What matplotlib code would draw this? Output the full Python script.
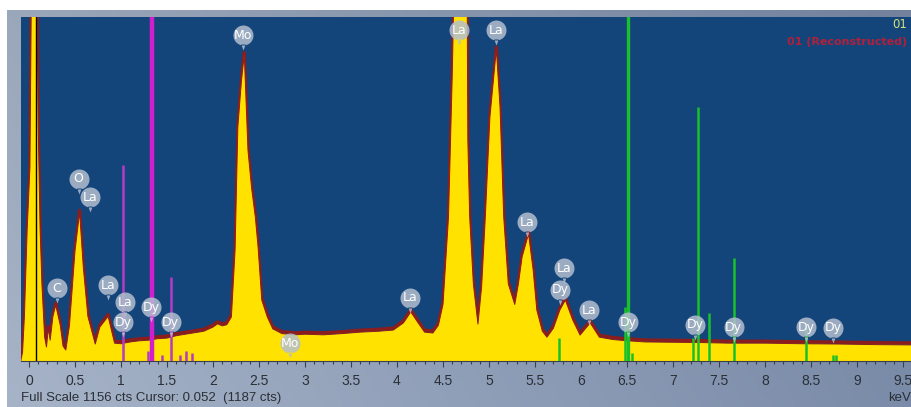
import numpy as np
import matplotlib
matplotlib.use("Agg")
import matplotlib.pyplot as plt
from matplotlib.path import Path
from matplotlib.transforms import offset_copy

# ---------------- data ----------------
energy_keV = [-0.09, -0.07, -0.05, -0.02, 0.01, 0.03, 0.08, 0.10, 0.12, 0.14, 0.155, 0.17,
              0.19, 0.21, 0.23, 0.26, 0.29, 0.34, 0.37, 0.40, 0.44, 0.50, 0.55, 0.59, 0.64,
              0.72, 0.77, 0.86, 0.93, 1.0, 1.1, 1.2, 1.3, 1.4, 1.5, 1.6, 1.7, 1.8, 1.9, 2.0,
              2.05, 2.1, 2.15, 2.2, 2.24, 2.27, 2.31, 2.34, 2.38, 2.42, 2.46, 2.49, 2.53,
              2.59, 2.65, 2.75, 2.9, 3.0, 3.2, 3.4, 3.6, 3.8, 3.96, 4.07, 4.15, 4.23, 4.30,
              4.39, 4.45, 4.5, 4.56, 4.60, 4.63, 4.76, 4.77, 4.79, 4.83, 4.88, 4.92, 4.96,
              5.01, 5.08, 5.12, 5.16, 5.21, 5.28, 5.32, 5.36, 5.43, 5.48, 5.52, 5.58, 5.63,
              5.70, 5.77, 5.83, 5.91, 5.99, 6.10, 6.20, 6.35, 6.5, 6.7, 7.0, 7.3, 7.6, 8.0,
              8.4, 8.8, 9.2, 9.6]
counts = [0, 30, 150, 440, 650, 1400, 1400, 786, 450, 260, 171, 80,
          47, 110, 70, 150, 188, 120, 50, 37, 120, 370, 500, 316, 150,
          57, 114, 150, 60, 58, 64, 68, 70, 75, 77, 85, 90, 95, 100, 114,
          125, 118, 122, 148, 373, 786, 944, 1030, 709, 580, 484, 383, 205,
          148, 108, 92, 88, 90, 88, 92, 97, 100, 104, 128, 165, 128, 97,
          94, 120, 190, 484, 954, 1400, 1400, 743, 484, 259, 124, 250, 484,
          820, 1048, 853, 484, 259, 190, 260, 350, 427, 306, 171, 100, 80,
          110, 171, 205, 138, 87, 128, 80, 72, 68, 64, 63, 62, 60, 60,
          58, 57, 55, 54]

full_scale = 1156

magenta_keV = [1.02, 1.29, 1.34, 1.45, 1.54, 1.64, 1.71, 1.77]
magenta_cts = [660, 35, 1400, 20, 282, 20, 34, 27]

green_keV = [5.76, 6.48, 6.51, 6.55, 7.22, 7.27, 7.39, 7.66, 8.45, 8.74, 8.77]
green_cts = [77, 181, 1400, 27, 77, 853, 161, 346, 114, 20, 20]

label_text = ["C", "O", "La", "La", "La", "Dy", "Dy", "Dy", "Mo", "Mo", "La", "La", "La",
              "La", "La", "Dy", "La", "Dy", "Dy", "Dy", "Dy", "Dy"]
label_keV = [0.30, 0.54, 0.66, 0.86, 1.04, 1.02, 1.33, 1.54, 2.33, 2.84, 4.14, 4.67, 5.08,
             5.41, 5.82, 5.77, 6.09, 6.51, 7.24, 7.66, 8.45, 8.74]
label_cts = [245, 612, 551, 255, 198, 131, 181, 131, 1095, 60, 212, 1112, 1112,
             467, 312, 239, 171, 131, 121, 114, 114, 111]

tick_values = [0, 0.5, 1, 1.5, 2, 2.5, 3, 3.5, 4, 4.5, 5, 5.5, 6, 6.5, 7, 7.5, 8, 8.5, 9, 9.5]
tick_labels = ["0", "0.5", "1", "1.5", "2", "2.5", "3", "3.5", "4", "4.5", "5", "5.5",
               "6", "6.5", "7", "7.5", "8", "8.5", "9", "9.5"]

cursor_keV = 0.052
cursor_cts = 1187
cursor_line_keV = 0.075

# ---------------- figure ----------------
W, H = 912, 407
fig = plt.figure(figsize=(W / 100, H / 100), dpi=100)
fig.patch.set_facecolor("white")

# background frame (grey-blue gradient)
bg = fig.add_axes([7 / W, 0, (W - 7) / W, (H - 10) / H])
bg.axis("off")
gx = np.linspace(0, 1, 300)[None, :, None]
gy = np.linspace(0, 1, 100)[:, None, None]
left = np.array([163, 176, 196]) / 255
right = np.array([120, 137, 166]) / 255
img = left * (1 - gx) + right * gx
img = img * (0.95 + 0.07 * gy)
bg.imshow(np.clip(img, 0, 1), aspect="auto", extent=[0, 1, 0, 1])
bg.set_xlim(0, 1)
bg.set_ylim(0, 1)

ax = fig.add_axes([21 / W, 46 / H, (W - 21) / W, 344 / H])
ax.set_facecolor("#13457a")
ax.set_xlim(-0.087, 9.598)
ax.set_ylim(0, full_scale)

# spectrum
red = "#8c1d1d"
tr_up = offset_copy(ax.transData, fig=fig, x=0, y=2.0, units="dots")
ax.plot(energy_keV, counts, color=red, lw=2.3, transform=tr_up, zorder=1.9)
ax.fill_between(energy_keV, counts, 0, color="#ffe200", lw=0, zorder=2)
ax.plot(energy_keV, counts, color=red, lw=0.7, zorder=2.1)

# cursor
ax.axvline(cursor_line_keV, color="black", lw=1, zorder=2.2)

# marker lines
for e, c in zip(magenta_keV, magenta_cts):
    ax.vlines(e, 0, c, color="#d11fd0" if c >= full_scale else "#b43cc4",
              lw=3.2 if c >= full_scale else 1.8, zorder=3)
for e, c in zip(green_keV, green_cts):
    ax.vlines(e, 0, c, color="#19c02c", lw=2.4 if c >= full_scale else 1.8, zorder=3)

# label pins
circ = Path.unit_circle()
tail = Path([(-0.22, -0.9), (0.22, -0.9), (0.0, -1.5), (-0.22, -0.9)],
            [Path.MOVETO, Path.LINETO, Path.LINETO, Path.CLOSEPOLY])
pin = Path.make_compound_path(circ, tail)
ax.plot(label_keV, label_cts, ls="none", marker=pin, markersize=21.6,
        markerfacecolor="#b4bfd0", markeredgecolor="none", alpha=0.85, zorder=4)
for t, e, c in zip(label_text, label_keV, label_cts):
    ax.text(e, c, t, color="white", fontsize=9, ha="center", va="center",
            family="DejaVu Sans", zorder=5)

# header texts
ax.text(0.995, 0.977, "01", transform=ax.transAxes, color="#d2e27a", fontsize=8.5,
        ha="right", va="center", zorder=5)
ax.text(0.995, 0.927, "01 (Reconstructed)", transform=ax.transAxes, color="#b0203c",
        fontsize=8, fontweight="bold", ha="right", va="center", zorder=5)

# axes decoration
for s in ["top", "left", "right"]:
    ax.spines[s].set_visible(False)
ax.spines["bottom"].set_color("#3a3f4a")
ax.spines["bottom"].set_linewidth(0.8)
ax.set_yticks([])
ax.set_xticks(tick_values)
ax.set_xticklabels(tick_labels, fontsize=10, family="Liberation Sans", color="#2b2f36")
ax.set_xticks(np.arange(0, 9.6, 0.1), minor=True)
ax.tick_params(axis="x", which="major", direction="out", length=4, width=0.8,
               color="#3a3f4a", pad=5.5)
ax.tick_params(axis="x", which="minor", direction="out", length=2.3, width=0.8,
               color="#3a3f4a")

fig.text(21 / W, 1 - 398 / H,
         f"Full Scale {full_scale} cts Cursor: {cursor_keV:.3f}  ({cursor_cts} cts)",
         fontsize=9.5, family="Liberation Sans", color="#2b2f36", ha="left", va="center")
fig.text(1 - 1 / W, 1 - 398 / H, "keV", fontsize=9.5, family="Liberation Sans",
         color="#2b2f36", ha="right", va="center")

fig.savefig("out.png", dpi=100, facecolor=fig.get_facecolor())
